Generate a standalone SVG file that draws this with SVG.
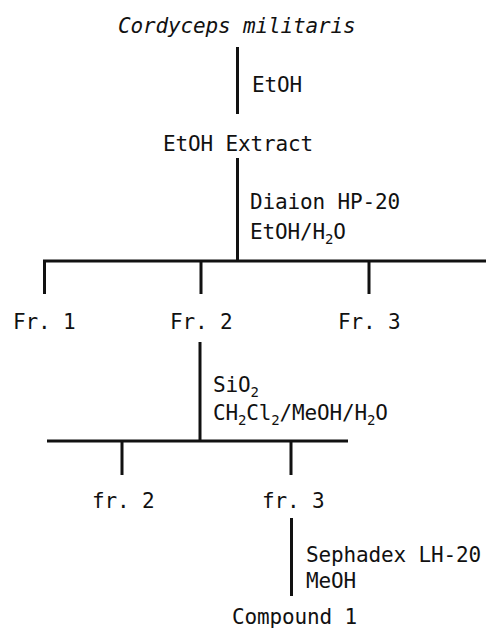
<svg xmlns="http://www.w3.org/2000/svg" width="486" height="632" viewBox="0 0 486 632">
<style>
  text { font-family: "DejaVu Sans Mono", "Liberation Mono", monospace; font-size: 21px; letter-spacing: -0.15px; fill: #111; }
  .it { font-style: italic; }
  .sub { font-size: 14px; }
  .ln { stroke: #111; stroke-width: 3; fill: none; stroke-linecap: butt; }
</style>
<rect width="486" height="632" fill="#fff"/>
<g id="connectors">
  <path class="ln" d="M237.5,47 V114"/>
  <path class="ln" d="M237.5,158 V261"/>
  <path class="ln" d="M43,261 H486"/>
  <path class="ln" d="M44.5,261 V294 M201,261 V294 M369,261 V294"/>
  <path class="ln" d="M200,342 V441"/>
  <path class="ln" d="M47,441 H348"/>
  <path class="ln" d="M122,441 V475 M291,441 V475"/>
  <path class="ln" d="M291.5,518 V596"/>
</g>
<g id="cordyceps"><text class="it" x="118" y="33">Cordyceps militaris</text></g>
<g id="label-etoh"><text x="252" y="92">EtOH</text></g>
<g id="etoh-extract"><text x="163" y="151">EtOH Extract</text></g>
<g id="label-diaion">
  <text x="250" y="209">Diaion HP-20</text>
  <text x="250" y="239">EtOH/H<tspan class="sub" dy="5">2</tspan><tspan dy="-5">O</tspan></text>
</g>
<g id="fr1"><text x="13" y="329">Fr. 1</text></g>
<g id="fr2"><text x="170" y="329">Fr. 2</text></g>
<g id="fr3"><text x="338" y="329">Fr. 3</text></g>
<g id="label-sio2">
  <text x="213" y="392">SiO<tspan class="sub" dy="5">2</tspan></text>
  <text x="213" y="420">CH<tspan class="sub" dy="5">2</tspan><tspan dy="-5">Cl</tspan><tspan class="sub" dy="5">2</tspan><tspan dy="-5">/MeOH/H</tspan><tspan class="sub" dy="5">2</tspan><tspan dy="-5">O</tspan></text>
</g>
<g id="sub-fr2"><text x="92" y="508">fr. 2</text></g>
<g id="sub-fr3"><text x="262" y="508">fr. 3</text></g>
<g id="label-sephadex">
  <text x="306" y="562">Sephadex LH-20</text>
  <text x="306" y="588">MeOH</text>
</g>
<g id="compound1"><text x="232" y="624">Compound 1</text></g>
</svg>
